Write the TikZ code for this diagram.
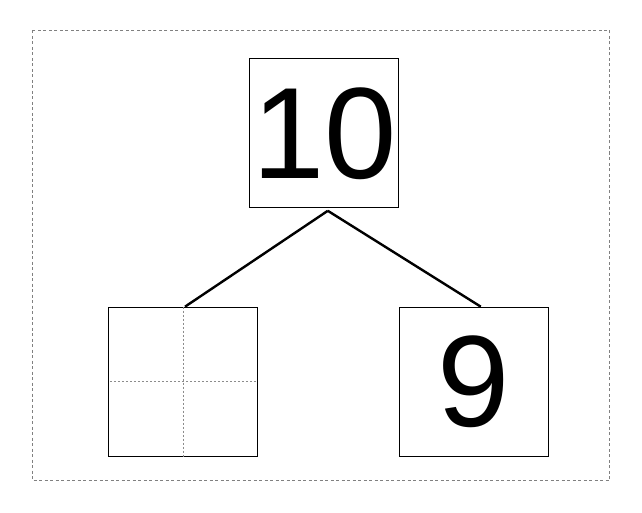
\documentclass[tikz,border=0pt]{standalone}
\usepackage{fontspec}
\setmainfont{Liberation Sans}
\begin{document}
\begin{tikzpicture}[x=1pt,y=-1pt,
  numbox/.style={draw=black,line width=1pt,minimum size=149pt,inner sep=0pt,
    font=\fontsize{130}{130}\selectfont},
  conn/.style={draw=black,line width=2.4pt},
  frame/.style={draw=black!50,line width=0.9pt,dash pattern=on 3pt off 2.5pt},
  guide/.style={draw=black!45,line width=0.8pt,dash pattern=on 2pt off 2pt}]
\useasboundingbox (0,0) rectangle (642,513);
\draw[frame] (32.5,30.5) rectangle (609.5,480.5);
\node[numbox] (top) at (323.8,133.3) {\kern2pt 10};
\node[numbox] (left) at (182.8,381.7) {};
\node[numbox] (right) at (473.8,381.7) {9};
\draw[guide] ([xshift=0.5pt]left.north) -- ([xshift=0.5pt,yshift=-1.5pt]left.south);
\draw[guide] ([xshift=2pt,yshift=0.6pt]left.west) -- ([xshift=-2pt,yshift=0.6pt]left.east);
\draw[conn] ([xshift=4pt,yshift=-2.5pt]top.south) -- ([xshift=2.2pt]left.north);
\draw[conn] ([xshift=4pt,yshift=-2.5pt]top.south) -- ([xshift=7pt]right.north);
\end{tikzpicture}
\end{document}
